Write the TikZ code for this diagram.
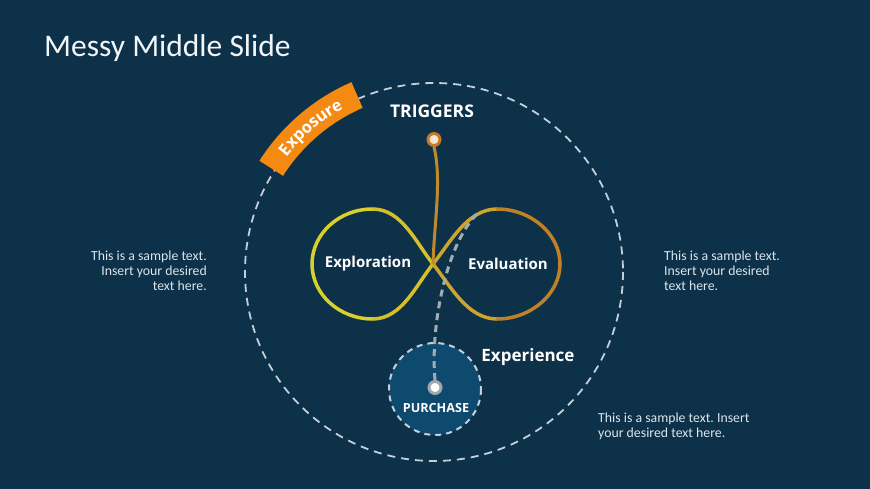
\documentclass[tikz,border=0pt]{standalone}
\usepackage{fontspec}
\setmainfont{Carlito}
\newfontfamily\lblfont{Open Sans}
\usetikzlibrary{calc,decorations.text}
\frenchspacing
\definecolor{bg}{HTML}{0C3149}
\definecolor{titlecol}{HTML}{F2F6F9}
\definecolor{bodycol}{HTML}{DCE5EC}
\definecolor{dashcol}{HTML}{C5CFD8}
\definecolor{pfill}{HTML}{0E4A6E}
\definecolor{banner}{HTML}{F58A12}
\definecolor{yelA}{HTML}{D8CE2C}
\definecolor{yelB}{HTML}{D5C02A}
\definecolor{golC}{HTML}{CDA42C}
\definecolor{brnD}{HTML}{BF8128}
\definecolor{trigline}{HTML}{BF8A2C}
\definecolor{trigring}{HTML}{C47A28}
\definecolor{trigin}{HTML}{F8E6D0}
\definecolor{pring}{HTML}{A0A8AE}
\definecolor{pathgrey}{HTML}{A3ABB3}
\tikzset{
  bodytext/.style={inner sep=0pt, text=bodycol, font=\fontsize{13.8}{15}\selectfont},
  lbl/.style={inner sep=0pt, text=white, font=\lblfont\bfseries\fontsize{15}{18}\selectfont},
  bigdash/.style={draw=dashcol, line width=1.8pt, dash pattern=on 8pt off 6pt},
  smalldash/.style={draw=dashcol, line width=2pt, dash pattern=on 6pt off 5pt},
  inf/.style={line width=3.5pt, line cap=round},
  dotnode/.style={circle, line width=3pt, minimum size=12pt, inner sep=0pt},
}
\begin{document}
\begin{tikzpicture}[x=1pt,y=-1pt]
\useasboundingbox (0,0) rectangle (870,489);
\fill[bg] (0,0) rectangle (870,489);

% title
\node[anchor=base west, inner sep=0pt, text=titlecol, font=\fontsize{31.5}{36}\selectfont] (title) at (44,57) {Messy Middle Slide};

% side texts
\node[bodytext, anchor=north east, align=right] (txtL) at (207,251) {This is a sample text.\\Insert your desired\\text here.};
\node[bodytext, anchor=north west, align=left] (txtR) at (664,251) {This is a sample text.\\Insert your desired\\text here.};
\node[bodytext, anchor=north west, align=left] (txtB) at (598,413) {This is a sample text. Insert\\your desired text here.};

% big dashed circle
\coordinate (O) at (434,272);
\draw[bigdash] (O) circle[radius=189];

% exposure banner
\fill[banner] ($(O)+(-147.5:207)$) arc[start angle=-147.5, end angle=-113.5, radius=207]
  -- ($(O)+(-113.5:179)$) arc[start angle=-113.5, end angle=-147.5, radius=179] -- cycle;
\path[decorate, decoration={text along path, text align=center,
  text={|\lblfont\bfseries\fontsize{16.5}{16.5}\selectfont\color{white}|Exposure}}]
  ($(O)+(-150:187)$) arc[start angle=-150, end angle=-111, radius=187];

% purchase circle
\draw[smalldash, fill=pfill] (435,389) circle[radius=46];

% infinity
\coordinate (C) at (433,264);
\coordinate (TR) at (497,209);
\coordinate (R) at (560,264);
\coordinate (BR) at (497,319);
\coordinate (TL) at (372.5,209);
\coordinate (L) at (312,264);
\coordinate (BL) at (372.5,319);
\draw[inf, yelA] (TL) .. controls (339,209) and (312,234) .. (L);
\draw[inf, yelA] (L) .. controls (312,294) and (339,319) .. (BL);
\draw[inf, yelB] (C) .. controls (416,243) and (402,209) .. (TL);
\draw[inf, yelB] (BL) .. controls (402,319) and (416,285) .. (C);
\draw[inf, golC] (C) .. controls (450,243) and (467,209) .. (TR);
\draw[inf, golC] (BR) .. controls (467,319) and (450,285) .. (C);
\draw[inf, brnD] (TR) .. controls (531,209) and (560,234) .. (R);
\draw[inf, brnD] (R) .. controls (560,294) and (531,319) .. (BR);

% triggers
\node[dotnode, draw=trigring, fill=trigin] (trig) at (434,139.5) {};
\draw[trigline, line width=3pt] (trig.south) .. controls (442,180) and (434,225) .. (C);

% purchase path
\coordinate (J) at (478,213);
\node[dotnode, draw=pring, fill=white] (pdot) at (435,387.5) {};
\draw[pathgrey, line width=3pt, dash pattern=on 7pt off 5pt] (pdot.north) .. controls (430,325) and (447,242) .. (J);

% labels
\node[lbl, font=\lblfont\bfseries\fontsize{17.5}{20}\selectfont] (triggers) at (432,111) {TRIGGERS};
\node[lbl] (explor) at (368,264) {Exploration};
\node[lbl] (evalu) at (508,264) {Evaluation};
\node[lbl, font=\lblfont\bfseries\fontsize{17}{20}\selectfont] (exper) at (528,357) {Experience};
\node[lbl, font=\lblfont\bfseries\fontsize{12.6}{14}\selectfont] (purch) at (436,408) {PURCHASE};
\end{tikzpicture}
\end{document}
